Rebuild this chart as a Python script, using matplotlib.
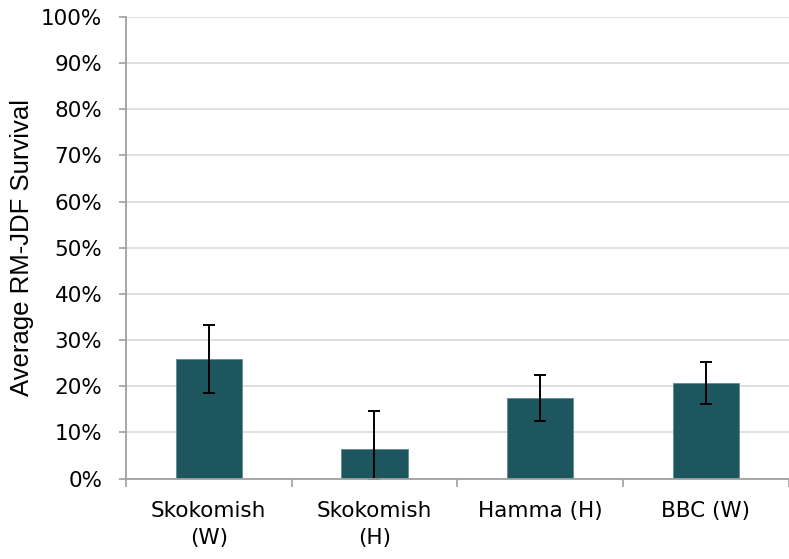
import numpy as np
import matplotlib.pyplot as plt

# Average survival per group (%) with error bars
groups = ['Skokomish\n(W)', 'Skokomish\n(H)', 'Hamma (H)', 'BBC (W)']
survival = [25.8, 6.3, 17.4, 20.65]
err_low = [7.2, 6.3, 4.9, 4.5]
err_high = [7.5, 8.4, 5.1, 4.6]

fig = plt.figure(figsize=(7.89, 5.59), dpi=100)
ax = fig.add_axes([126 / 789, 0.144, 662.5 / 789, 0.8256])

x = np.arange(len(groups))
ax.bar(x, survival, width=0.4, color='#1d565e', edgecolor='#5f8c90',
       linewidth=0.6, zorder=2)
ax.errorbar(x, survival, yerr=[err_low, err_high], fmt='none',
            ecolor='black', elinewidth=1.4, capsize=4, capthick=1.4, zorder=3)

ax.set_xlim(-0.5, len(groups) - 0.5)
ax.set_ylim(0, 100)
ax.set_yticks(np.arange(0, 101, 10))
ax.set_yticklabels([f'{v}%' for v in range(0, 101, 10)])
ax.yaxis.grid(True, color='#dcdcdc', linewidth=1.3, zorder=0)
ax.set_axisbelow(True)

ax.set_xticks(x)
ax.set_xticklabels(groups, linespacing=1.45)
ax.set_xticks(np.arange(-0.5, len(groups)), minor=True)
ax.tick_params(axis='x', which='major', length=0, pad=16, labelsize=15.5)
ax.tick_params(axis='x', which='minor', length=6, width=1.2, color='#a0a0a0')
ax.tick_params(axis='y', length=5, width=1.2, color='#a0a0a0', pad=12,
               labelsize=15.5)

for side in ['top', 'right']:
    ax.spines[side].set_visible(False)
for side in ['left', 'bottom']:
    ax.spines[side].set_color('#a0a0a0')
    ax.spines[side].set_linewidth(1.3)
    ax.spines[side].set_zorder(4)

fig.text(22 / 789, 0.557, 'Average RM-JDF Survival', rotation=90,
         ha='center', va='center', fontsize=18.5, family='Liberation Sans')

fig.savefig('out.png', dpi=100)
